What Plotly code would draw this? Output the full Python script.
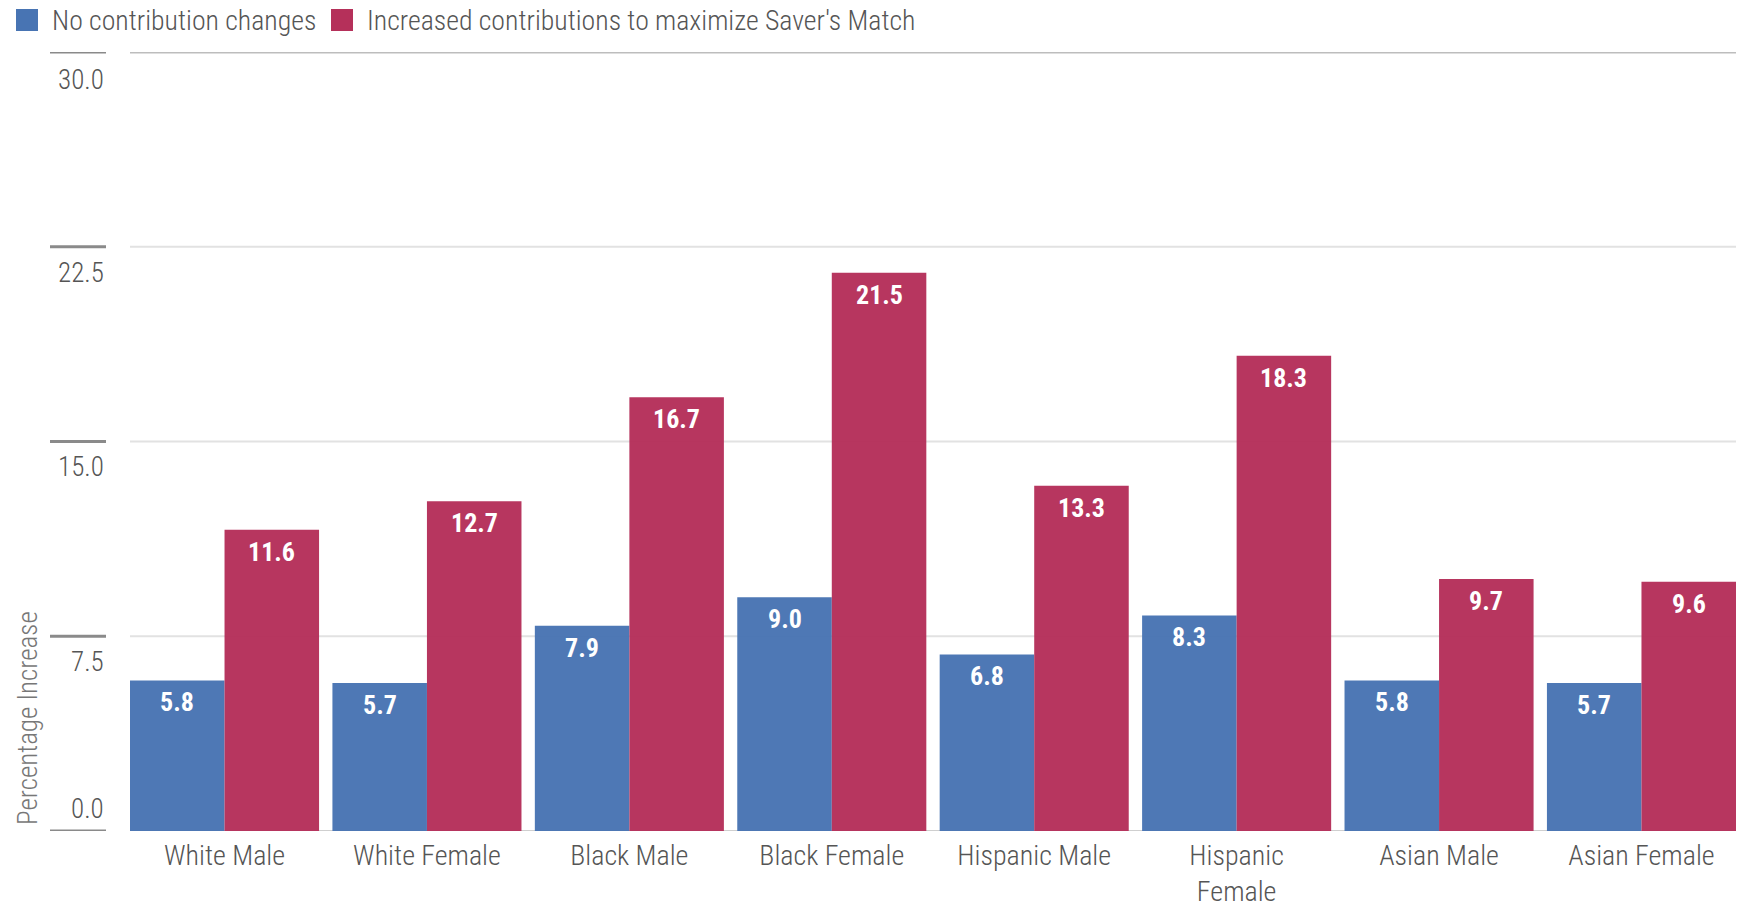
import plotly.graph_objects as go

# Data
categories = ["White Male", "White Female", "Black Male", "Black Female",
              "Hispanic Male", "Hispanic<br>Female", "Asian Male", "Asian Female"]
no_change = [5.8, 5.7, 7.9, 9.0, 6.8, 8.3, 5.8, 5.7]
max_match = [11.6, 12.7, 16.7, 21.5, 13.3, 18.3, 9.7, 9.6]
series_names = ["No contribution changes", "Increased contributions to maximize Saver's Match"]
y_ticks = [0.0, 7.5, 15.0, 22.5, 30.0]
y_tick_labels = ["0.0", "7.5", "15.0", "22.5", "30.0"]
y_title = "Percentage Increase"

W, H = 1744, 906
FONT = "Roboto Condensed, Liberation Sans Narrow, DejaVu Sans Condensed, Roboto, sans-serif"
BLUE = "#4874b3"
RED = "#b5305a"
colors = [BLUE, RED]
TEXT = "#555555"


def px(x):
    return x / W


def py(y):
    return 1 - y / H


plot_left, plot_right = 130, 1736
plot_top, plot_bottom = 52, 831
bargap = 0.066
# half of one bar's width in pixels (two bars per category slot)
slot_px = (plot_right - plot_left) / (8 - bargap)
half_bar = slot_px * (1 - bargap) / 4

fig = go.Figure()
annotations = []
for k, (name, vals, col) in enumerate(zip(series_names, [no_change, max_match], colors)):
    fig.add_trace(go.Bar(
        x=categories, y=vals, name=name,
        marker=dict(color=col, opacity=0.97, line=dict(width=0)),
        showlegend=False,
        hoverinfo="x+y+name",
    ))
    # value labels inside the top of each bar
    for c, v in zip(categories, vals):
        annotations.append(dict(
            xref="x", yref="y", x=c, y=v, text=f"{v:.1f}", showarrow=False,
            xanchor="center", yanchor="middle",
            xshift=(-half_bar if k == 0 else half_bar), yshift=-22,
            font=dict(family=FONT, size=26, color="white", weight="bold"),
        ))

shapes = []

# Horizontal grid lines and the short marks beside the tick labels
for v, lab in zip(y_ticks, y_tick_labels):
    if v == 0:
        gcol, gw = "#cfcfcf", 2
    elif v == max(y_ticks):
        gcol, gw = "#bdbdbd", 3
    else:
        gcol, gw = "#e2e2e2", 2
    shapes.append(dict(type="line", xref="paper", yref="y", layer="below",
                       x0=px(plot_left), x1=px(plot_right), y0=v, y1=v,
                       line=dict(color=gcol, width=gw)))
    shapes.append(dict(type="line", xref="paper", yref="y",
                       x0=px(50), x1=px(106), y0=v, y1=v,
                       line=dict(color="#8a8a8a", width=3)))
    annotations.append(dict(xref="paper", yref="y", x=px(106), y=v,
                            text=lab, showarrow=False, xanchor="right", yanchor="middle",
                            yshift=22 if v == 0 else (-28 if v == max(y_ticks) else -26),
                            font=dict(family=FONT, size=27, color=TEXT, weight=300)))

# Axis title
annotations.append(dict(xref="paper", yref="paper", x=px(28), y=py(718),
                        text=y_title, textangle=-90, showarrow=False,
                        xanchor="center", yanchor="middle",
                        font=dict(family=FONT, size=27, color="#777777", weight=300)))

# Legend drawn as swatches and labels along the top
legend_items = [(16, 50, series_names[0], BLUE), (331, 365, series_names[1], RED)]
for sx, tx, name, col in legend_items:
    shapes.append(dict(type="rect", xref="paper", yref="paper",
                       x0=px(sx), x1=px(sx + 22), y0=py(9), y1=py(31),
                       fillcolor=col, line=dict(width=0)))
    annotations.append(dict(xref="paper", yref="paper", x=px(tx), y=py(20),
                            text=name, showarrow=False, xanchor="left", yanchor="middle",
                            font=dict(family=FONT, size=27.8, color=TEXT, weight=300)))

fig.update_layout(
    width=W, height=H,
    margin=dict(l=0, r=0, t=0, b=0),
    paper_bgcolor="white", plot_bgcolor="white",
    barmode="group", bargap=bargap, bargroupgap=0,
    font=dict(family=FONT, color=TEXT),
    shapes=shapes, annotations=annotations,
    xaxis=dict(domain=[px(plot_left), px(plot_right)],
               range=[-0.5 + bargap / 2, 7.5 - bargap / 2],
               showgrid=False, showline=False, automargin=False,
               zeroline=False, ticks="", ticklabelstandoff=5,
               tickfont=dict(family=FONT, size=28, color=TEXT, weight=300)),
    yaxis=dict(domain=[py(plot_bottom), py(plot_top)], range=[0, 30],
               showgrid=False, zeroline=False, showline=False, automargin=False,
               showticklabels=False, ticks=""),
)

fig.write_html("out.html")
